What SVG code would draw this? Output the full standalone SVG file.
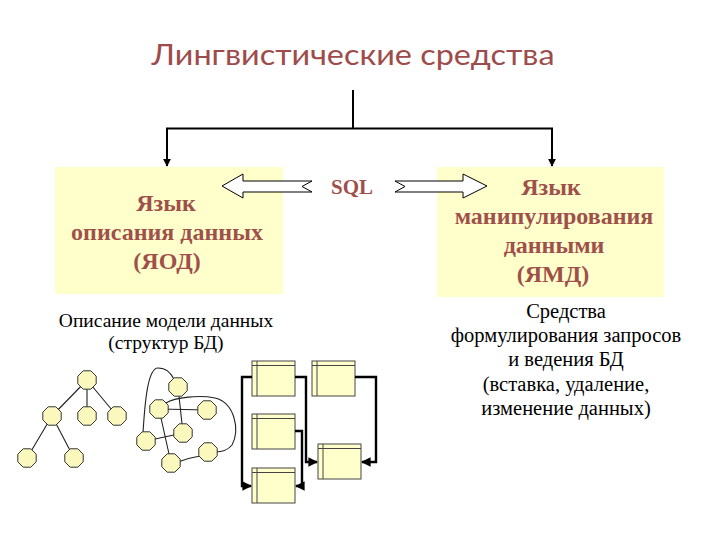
<svg xmlns="http://www.w3.org/2000/svg" width="720" height="540" viewBox="0 0 720 540">
<style>
.title{font-family:Lato,"Open Sans","Liberation Sans",sans-serif;font-size:28px;fill:#9E4B4B;text-anchor:middle}
.box{fill:#FFFFCC}
.bt{font-family:"Liberation Serif",serif;font-weight:bold;font-size:24px;fill:#A0504A;text-anchor:middle}
.desc{font-family:"Liberation Serif",serif;font-size:19.5px;fill:#000;text-anchor:middle}
.conn{stroke:#000;stroke-width:2;fill:none}
.harrow{fill:#fff;stroke:#000;stroke-width:1}
.edge{stroke:#222;stroke-width:1.1;fill:none}
.node{fill:#FBF8BE;stroke:#333;stroke-width:1}
.tbl{fill:#FFFFCC;stroke:#444;stroke-width:1}
.tline{stroke:#444;stroke-width:1;fill:none}
.tconn{stroke:#000;stroke-width:2.4;fill:none}
</style>
<defs>
<marker id="ah" viewBox="0 0 10 10" refX="9" refY="5" markerWidth="4" markerHeight="4" orient="auto">
<path d="M0,0 L10,5 L0,10 z" fill="#000"/>
</marker>
<polygon id="oct" points="3.8,-9.2 9.2,-3.8 9.2,3.8 3.8,9.2 -3.8,9.2 -9.2,3.8 -9.2,-3.8 -3.8,-9.2" class="node"/>
<g id="tb">
<rect x="0" y="0" width="43" height="35" class="tbl"/>
<path d="M0,4.5 H43 M5,0 V35" class="tline"/>
</g>
</defs>
<rect width="720" height="540" fill="#fff"/>

<g id="title"><text class="title" x="353" y="65" textLength="403" lengthAdjust="spacingAndGlyphs">Лингвистические средства</text></g>

<g id="connectors">
<path class="conn" d="M353,90 V128.5 M166,128.5 H553"/>
<path class="conn" d="M167,128.5 V166" marker-end="url(#ah)"/>
<path class="conn" d="M552,128.5 V166" marker-end="url(#ah)"/>
</g>

<g id="yod">
<rect class="box" x="55" y="167" width="228" height="127"/>
<text class="bt" x="166" y="211">Язык</text>
<text class="bt" x="167" y="240">описания данных</text>
<text class="bt" x="167" y="269">(ЯОД)</text>
</g>

<g id="ymd">
<rect class="box" x="437" y="167" width="227" height="130"/>
<text class="bt" x="551" y="195">Язык</text>
<text class="bt" x="554" y="224">манипулирования</text>
<text class="bt" x="554" y="253">данными</text>
<text class="bt" x="553" y="282">(ЯМД)</text>
</g>

<g id="sql">
<polygon class="harrow" points="222,186 243,174 243,181 312,181 302,186.5 312,192 243,192 243,198"/>
<polygon class="harrow" points="395,181 463,181 463,174 487,186 463,198 463,192 395,192 405,186.5"/>
<text class="bt" x="352" y="194" style="font-size:21px">SQL</text>
</g>

<g id="desc-left">
<text class="desc" x="166" y="327">Описание модели данных</text>
<text class="desc" x="166" y="349">(структур БД)</text>
</g>

<g id="desc-right" style="font-size:20.5px">
<text class="desc" x="566" y="318" style="font-size:20.5px">Средства</text>
<text class="desc" x="566" y="342" style="font-size:20.5px">формулирования запросов</text>
<text class="desc" x="566" y="366" style="font-size:20.5px">и ведения БД</text>
<text class="desc" x="566" y="391" style="font-size:20.5px">(вставка, удаление,</text>
<text class="desc" x="566" y="415" style="font-size:20.5px">изменение данных)</text>
</g>

<g id="tree">
<path class="edge" d="M87,380 L52,416 M87,380 V416 M87,380 L117,416 M52,416 L27,458 M52,416 L74,458"/>
<use href="#oct" x="87" y="380"/>
<use href="#oct" x="52" y="416"/>
<use href="#oct" x="87" y="416"/>
<use href="#oct" x="117" y="416"/>
<use href="#oct" x="27" y="458"/>
<use href="#oct" x="74" y="458"/>
</g>

<g id="network">
<path class="edge" d="M159,409 L207,410 M178,387 L183,433 M146,441 L183,433 M159,409 L171,463"/>
<path class="edge" d="M143,433 C145,400 148,368 158,368 C166,368 170,372 174,379"/>
<path class="edge" d="M166,403 C175,397 200,395 215,398 C235,403 240,430 232,445 C228,450 222,452 215,452"/>
<path class="edge" d="M178,462 C188,458 194,457 200,456"/>
<use href="#oct" x="178" y="387"/>
<use href="#oct" x="159" y="409"/>
<use href="#oct" x="207" y="410"/>
<use href="#oct" x="183" y="433"/>
<use href="#oct" x="146" y="441"/>
<use href="#oct" x="208" y="452"/>
<use href="#oct" x="171" y="463"/>
</g>

<g id="tables">
<g id="t1"><use href="#tb" x="252" y="361"/></g>
<g id="t2"><use href="#tb" x="312" y="361"/></g>
<g id="t3"><use href="#tb" x="252" y="414"/></g>
<g id="t4"><use href="#tb" x="252" y="468"/></g>
<g id="t5"><use href="#tb" x="318" y="444"/></g>
</g>

<g id="table-connectors">
<path class="tconn" d="M252,377 H242 V486 H251" marker-end="url(#ah)"/>
<path class="tconn" d="M295,377 H306 V462 H317" marker-end="url(#ah)"/>
<path class="tconn" d="M355,377 H376 V462 H362" marker-end="url(#ah)"/>
<path class="tconn" d="M295,431 H302 V486 H296" marker-end="url(#ah)"/>
</g>
</svg>
